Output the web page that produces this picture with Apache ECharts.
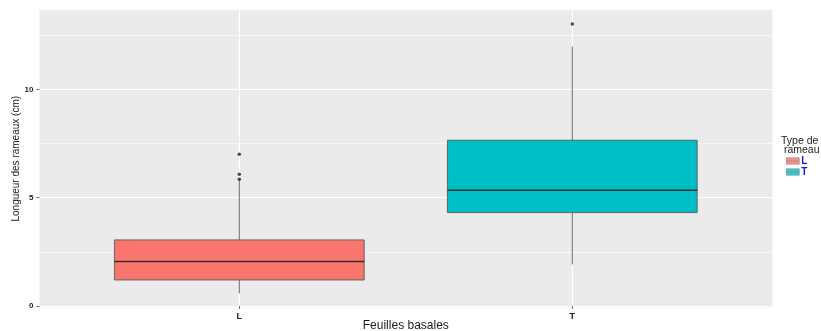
<!DOCTYPE html>
<html><head><meta charset="utf-8">
<script src="https://cdn.jsdelivr.net/npm/echarts@6/dist/echarts.min.js"></script>
<style>html,body{margin:0;padding:0;background:#fff}#c{width:821px;height:331px}</style>
</head><body><div id="c"></div>
<script>
// ---- data ----
const categories = ['L', 'T'];
// [min whisker, Q1, median, Q3, max whisker]
const statsL = [0.58, 1.2, 2.05, 3.05, 5.8];
const statsT = [1.92, 4.31, 5.34, 7.65, 11.97];
const outliersL = [7.0, 6.08, 5.85];
const outliersT = [13.01];
const yMajorTicks = [0, 5, 10];
const yMinorTicks = [2.5, 7.5, 12.5];
const yRange = [-0.07, 13.66];
const xTitle = 'Feuilles basales';
const yTitle = 'Longueur des rameaux (cm)';
const legendTitle = 'Type de\n rameau';

const FONT = 'Liberation Sans';
const fills = { L: '#F8766D', T: '#00BFC4' };
const boxStats = [statsL, statsT];

const chart = echarts.init(document.getElementById('c'), null, { renderer: 'canvas' });
const boxIcon = 'path://M0,0L16,0L16,8L0,8Z M0,4L16,4';

function renderBox(params, api) {
  const xi = api.value(0);
  const pMin = api.coord([xi, api.value(1)]);
  const pQ1 = api.coord([xi, api.value(2)]);
  const pMed = api.coord([xi, api.value(3)]);
  const pQ3 = api.coord([xi, api.value(4)]);
  const pMax = api.coord([xi, api.value(5)]);
  const band = api.size([1, 0])[0];
  const w = band * 0.75;
  const cx = pMed[0];
  const fill = fills[categories[params.dataIndex]];
  const wl = { stroke: '#5a5a5a', lineWidth: 0.9 };
  return {
    type: 'group',
    children: [
      { type: 'line', shape: { x1: cx, y1: pMax[1], x2: cx, y2: pQ3[1] }, style: wl },
      { type: 'line', shape: { x1: cx, y1: pQ1[1], x2: cx, y2: pMin[1] }, style: wl },
      { type: 'rect', shape: { x: cx - w / 2, y: pQ3[1], width: w, height: pQ1[1] - pQ3[1] },
        style: { fill: fill, stroke: '#5a5a5a', lineWidth: 0.9 } },
      { type: 'line', shape: { x1: cx - w / 2, y1: pMed[1], x2: cx + w / 2, y2: pMed[1] },
        style: { stroke: '#333', lineWidth: 1.6 } }
    ]
  };
}

chart.setOption({
  animation: false,
  backgroundColor: '#ffffff',
  title: {
    text: legendTitle, left: 781, top: 137, padding: 0,
    textStyle: { fontFamily: FONT, fontSize: 10.5, fontWeight: 'normal', color: '#1a1a1a', lineHeight: 9 }
  },
  legend: {
    orient: 'vertical', left: 786, top: 156, padding: 0,
    itemWidth: 13, itemHeight: 7, itemGap: 1, selectedMode: false,
    textStyle: { fontFamily: FONT, fontSize: 10, fontWeight: 'bold', color: '#1515ee', lineHeight: 8, padding: [0, 0, 0, -3] },
    data: categories.map(c => ({
      name: c, icon: boxIcon,
      itemStyle: { color: fills[c], borderColor: '#777', borderWidth: 0.6 }
    }))
  },
  grid: [
    { left: 39.5, right: 48.5, top: 10, bottom: 23.5, show: true, backgroundColor: '#EBEBEB', borderWidth: 0, outerBoundsMode: 'none', containLabel: false },
    { left: 239.3, right: 248.7, top: 10, bottom: 23.5, outerBoundsMode: 'none', containLabel: false }
  ],
  xAxis: [
    { gridIndex: 0, type: 'value', show: false, min: 0, max: 1 },
    {
      gridIndex: 1, type: 'category', data: categories, boundaryGap: false,
      axisLine: { show: false },
      axisTick: { show: true, length: 3, lineStyle: { color: '#444', width: 0.8 } },
      axisLabel: { fontFamily: FONT, fontSize: 9, fontWeight: 'bold', color: '#222', margin: 5 },
      splitLine: { show: true, lineStyle: { color: '#ffffff', width: 1.1 } },
      name: xTitle, nameLocation: 'middle', nameGap: 12, nameMoveOverlap: false,
      nameTextStyle: { fontFamily: FONT, fontSize: 12, color: '#1a1a1a' }
    }
  ],
  yAxis: [
    {
      gridIndex: 0, type: 'value', min: yRange[0], max: yRange[1],
      axisLine: { show: false },
      axisTick: { show: true, length: 3, customValues: yMajorTicks, lineStyle: { color: '#444', width: 0.8 } },
      axisLabel: { customValues: yMajorTicks, fontFamily: FONT, fontSize: 8, fontWeight: 'bold', color: '#222', margin: 6 },
      splitLine: { show: true, lineStyle: { color: '#ffffff', width: 1.1 } },
      name: yTitle, nameLocation: 'middle', nameGap: 18, nameMoveOverlap: false,
      nameTextStyle: { fontFamily: FONT, fontSize: 10, color: '#1a1a1a' }
    },
    {
      gridIndex: 0, type: 'value', min: yRange[0], max: yRange[1], position: 'left',
      axisLine: { show: false },
      axisTick: { show: false, customValues: yMinorTicks },
      axisLabel: { show: false, customValues: yMinorTicks },
      splitLine: { show: true, lineStyle: { color: '#ffffff', width: 0.6 } }
    },
    { gridIndex: 1, type: 'value', min: yRange[0], max: yRange[1], show: false }
  ],
  series: [
    {
      type: 'custom', xAxisIndex: 1, yAxisIndex: 2, renderItem: renderBox, z: 2,
      encode: { x: 0, y: [1, 2, 3, 4, 5] },
      data: categories.map((c, i) => [i].concat(boxStats[i]))
    },
    {
      name: 'L', type: 'scatter', xAxisIndex: 1, yAxisIndex: 2, symbolSize: 3.5, z: 4,
      itemStyle: { color: '#222' }, data: outliersL.map(v => ['L', v])
    },
    {
      name: 'T', type: 'scatter', xAxisIndex: 1, yAxisIndex: 2, symbolSize: 3.5, z: 4,
      itemStyle: { color: '#222' }, data: outliersT.map(v => ['T', v])
    }
  ]
});
</script></body></html>
